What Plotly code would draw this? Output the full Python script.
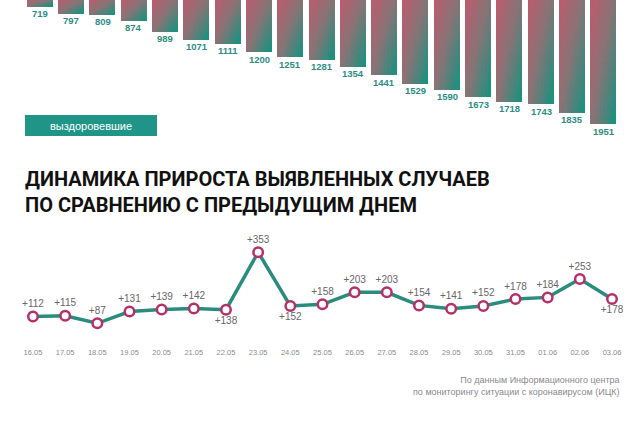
import plotly.graph_objects as go

dates = ["16.05", "17.05", "18.05", "19.05", "20.05", "21.05", "22.05", "23.05", "24.05", "25.05",
         "26.05", "27.05", "28.05", "29.05", "30.05", "31.05", "01.06", "02.06", "03.06"]
recovered = [719, 797, 809, 874, 989, 1071, 1111, 1200, 1251, 1281,
             1354, 1441, 1529, 1590, 1673, 1718, 1743, 1835, 1951]
growth = [112, 115, 87, 131, 139, 142, 138, 353, 152, 158,
          203, 203, 154, 141, 152, 178, 184, 253, 178]
label_pos = ["top center"] * 19
for i in (6, 8, 18):
    label_pos[i] = "bottom center"

W, H = 640, 425
STOPS = [(0.0, (200, 86, 108)), (0.5, (135, 116, 118)), (1.0, (24, 146, 128))]


def grad(t):
    t = max(0.0, min(1.0, t))
    for (t0, c0), (t1, c1) in zip(STOPS[:-1], STOPS[1:]):
        if t <= t1:
            f = (t - t0) / (t1 - t0)
            return "rgb(%d,%d,%d)" % tuple(round(a + (b - a) * f) for a, b in zip(c0, c1))
    return "rgb(%d,%d,%d)" % STOPS[-1][1]


fig = go.Figure()

# gradient bars: tiles (vertical K x horizontal M) with tiny overlaps
K, M = 16, 8
BW = 0.83
VIS = 656
EPS_X = 0.012
for m in range(M):
    for k in range(K):
        bases, lens, cols = [], [], []
        for v in recovered:
            seg = (v - VIS) / K
            start = 0 if k == 0 else VIS + seg * k
            end = VIS + seg * (k + 1) + (3 if k < K - 1 else 0)
            bases.append(start)
            lens.append(end - start)
            tv = (k + 0.5) / K
            th = (m + 0.5) / M
            cols.append(grad(0.08 + 0.45 * th + 0.37 * tv + 0.15 * th * tv))
        fig.add_trace(go.Bar(
            x=list(range(19)), y=lens, base=bases,
            width=BW / M + (EPS_X if m < M - 1 else 0), offset=-BW / 2 + m * BW / M,
            marker=dict(color=cols, line=dict(width=0)),
            xaxis="x", yaxis="y", showlegend=False, hoverinfo="skip"))

# line chart
fig.add_trace(go.Scatter(
    x=list(range(19)), y=growth, mode="lines+markers+text",
    text=["+%d" % v for v in growth], textposition=label_pos,
    textfont=dict(family="Liberation Sans, Arial", size=10, color="#666666"),
    line=dict(color="#2a8c7c", width=3.5),
    marker=dict(size=9.5, color="white", line=dict(color="#b5306a", width=2.5)),
    xaxis="x2", yaxis="y2", showlegend=False, cliponaxis=False, hoverinfo="skip"))


def px(x):
    return x / W


def py(y):
    return 1 - y / H


annotations = [
    dict(x=i, y=v, xref="x", yref="y", text=str(v), showarrow=False,
         xanchor="center", yanchor="top", yshift=0.5,
         font=dict(family="Liberation Sans, Arial", size=9.5, color="#2f8c84", weight="bold"))
    for i, v in enumerate(recovered)
]
annotations += [
    dict(text="выздоровевшие", xref="paper", yref="paper", x=px(91), y=py(126),
         xanchor="center", yanchor="middle", showarrow=False,
         font=dict(family="Liberation Sans, Arial", size=11, color="white")),
    dict(text="ДИНАМИКА ПРИРОСТА ВЫЯВЛЕННЫХ СЛУЧАЕВ<br>ПО СРАВНЕНИЮ С ПРЕДЫДУЩИМ ДНЕМ",
         xref="paper", yref="paper", x=px(23), y=py(165), xanchor="left", yanchor="top",
         align="left", showarrow=False,
         font=dict(family="Roboto, Liberation Sans", size=20, color="#111111", weight="bold")),
    dict(text="По данным Информационного центра<br>по мониторингу ситуации с коронавирусом (ИЦК)",
         xref="paper", yref="paper", x=px(622), y=py(373), xanchor="right", yanchor="top",
         align="right", showarrow=False,
         font=dict(family="Liberation Sans, Arial", size=9, color="#8a8a8a")),
]

fig.update_layout(
    width=W, height=H, margin=dict(l=0, r=0, t=0, b=0),
    paper_bgcolor="white", plot_bgcolor="white", barmode="overlay", bargap=0,
    xaxis=dict(domain=[px(24.3), px(619.3)], range=[-0.5, 18.5], visible=False, anchor="y"),
    yaxis=dict(domain=[py(140), 1], range=[2117, VIS], visible=False, anchor="x"),
    xaxis2=dict(domain=[px(16.9), px(628.1)], range=[-0.5, 18.5], anchor="y2",
                tickmode="array", tickvals=list(range(19)), ticktext=dates,
                showline=False, showgrid=False, zeroline=False, ticks="",
                tickfont=dict(family="Liberation Sans, Arial", size=7.5, color="#8a8a8a")),
    yaxis2=dict(domain=[py(346.5), py(240)], range=[0, 399], visible=False, anchor="x2"),
    shapes=[dict(type="rect", xref="paper", yref="paper", layer="below",
                 x0=px(25), x1=px(157), y0=py(136), y1=py(115),
                 fillcolor="#1f9487", line=dict(width=0))],
    annotations=annotations,
)

fig.write_html("out.html", config={"displayModeBar": False},
               post_script="document.body.style.margin='0';")
